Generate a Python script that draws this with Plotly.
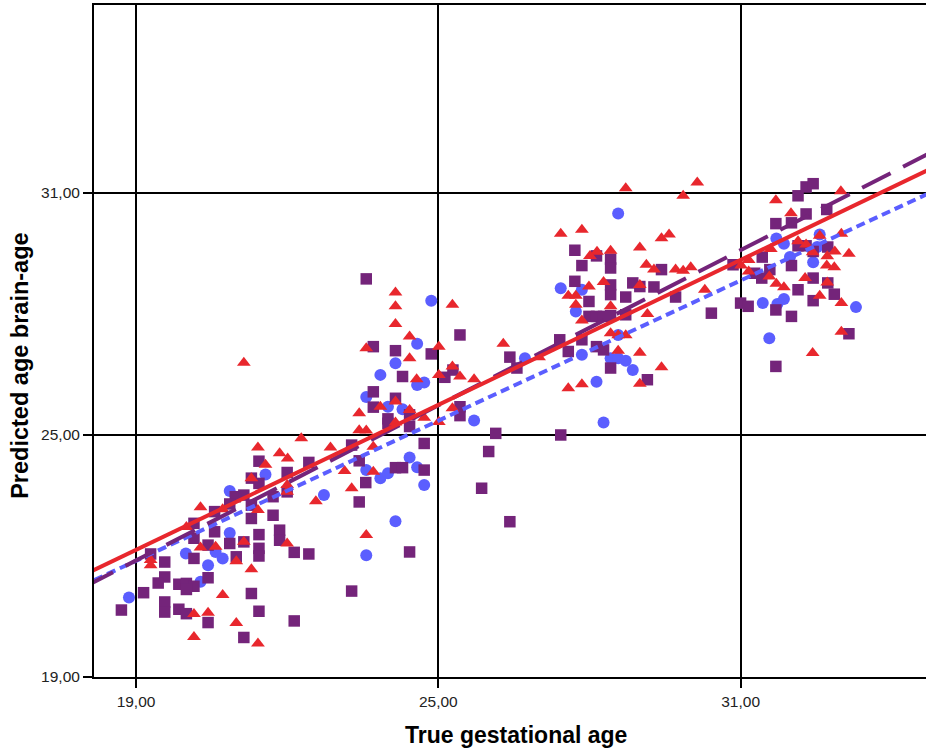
import plotly.graph_objects as go

# ---- data ----
red_x = [21.42, 22.28, 22.86, 21.85, 22.01, 21.57, 21.29, 22.00, 22.00, 22.57, 20.28, 21.42, 20.72, 20.00,
         22.00, 21.14, 20.28, 20.58, 20.99, 19.29, 19.29, 21.29, 20.72, 20.15, 20.43, 20.99, 20.15, 21.42,
         24.15, 24.15, 24.15, 24.43, 23.57, 24.43, 25.01, 25.28, 24.57, 25.01, 25.28, 25.43, 25.71, 26.29,
         27.00, 27.58, 27.58, 27.73, 27.73, 23.85, 24.15, 24.43, 23.43, 24.72, 25.28, 25.01, 23.43, 23.57,
         24.15, 23.71, 23.14, 23.71, 23.28, 23.57, 21.14,
         28.72, 30.14, 29.86, 27.43, 27.85, 29.43, 29.58, 29.00, 28.15, 28.01, 28.42, 29.13, 29.28, 29.71,
         29.86, 30.01, 28.28, 27.99, 29.00, 28.42, 30.29, 29.15, 27.85, 28.42, 28.57, 28.72, 28.57, 29.00,
         29.43, 27.85, 29.00, 31.70,
         32.99, 32.00, 32.14, 32.30, 32.57, 33.00, 31.60, 32.43, 32.72, 32.87, 33.15, 32.71, 32.86, 31.16,
         31.01, 31.16, 31.57, 31.71, 31.86, 32.28, 32.72, 32.57, 33.00, 33.00, 32.43]
red_y = [24.69, 24.92, 24.69, 24.55, 24.42, 24.26, 23.93, 23.76, 23.59, 23.36, 23.21, 23.14, 23.16, 22.72,
         22.31, 22.35, 22.21, 22.23, 21.87, 21.90, 21.77, 21.67, 21.03, 20.56, 20.59, 20.34, 19.99, 19.83,
         28.53, 28.19, 27.75, 27.44, 27.15, 26.90, 27.19, 28.23, 26.38, 26.49, 26.70, 26.45, 26.38, 27.26,
         26.93, 26.16, 28.45, 28.45, 28.23, 25.70, 25.83, 25.62, 25.54, 25.43, 25.66, 25.32, 25.12, 25.11,
         25.31, 24.71, 24.11, 24.09, 23.68, 22.52, 26.79,
         31.12, 31.26, 30.93, 29.99, 30.09, 29.88, 29.97, 29.65, 29.54, 29.44, 29.57, 29.22, 29.10, 29.10,
         29.07, 29.16, 28.79, 28.68, 28.72, 28.19, 28.60, 28.00, 27.84, 27.52, 27.47, 27.47, 27.09, 27.04,
         26.68, 26.26, 26.27, 30.82,
         31.04, 30.50, 29.80, 29.72, 29.94, 29.99, 29.61, 29.53, 29.43, 29.55, 29.49, 29.20, 29.16, 29.34,
         29.20, 29.05, 28.93, 28.75, 28.66, 28.89, 28.78, 28.45, 28.27, 27.56, 27.03]

blue_x = [21.57, 20.86, 22.73, 20.86, 19.99, 20.58, 20.72, 20.43, 20.28, 18.86,
          24.86, 24.58, 24.15, 23.85, 24.58, 24.72, 23.57, 24.00, 24.29, 25.71, 26.72, 27.43, 27.73,
          23.57, 23.85, 24.00, 24.43, 24.58, 24.72, 28.28, 24.15, 23.57,
          28.57, 27.85, 28.57, 27.85, 28.42, 28.57, 28.72, 28.86, 28.14, 31.44, 31.57,
          31.71, 31.86, 32.57, 31.98, 32.44, 32.52, 31.73, 31.86, 33.29]
blue_y = [24.02, 23.61, 23.51, 22.57, 22.06, 22.10, 21.94, 21.77, 21.36, 20.97,
          28.33, 27.26, 26.78, 26.49, 26.24, 26.30, 25.94, 25.70, 25.64, 25.36, 26.90, 28.64, 28.06,
          24.13, 23.93, 24.05, 24.44, 24.20, 23.76, 25.31, 22.86, 22.02,
          30.49, 28.60, 27.48, 26.99, 26.90, 26.90, 26.84, 26.61, 26.32, 28.27, 27.40,
          29.87, 29.74, 29.97, 29.41, 29.28, 29.66, 28.25, 28.37, 28.17]

purple_x = [21.44, 22.43, 21.29, 22.00, 21.44, 22.00, 20.97, 21.14, 21.72, 20.86, 21.29, 20.56, 21.72, 21.29,
            20.15, 20.56, 21.44, 21.85, 20.15, 20.86, 21.14, 21.85, 20.43, 21.44, 20.15, 20.99, 21.44, 22.14,
            22.43, 19.29, 19.57, 19.57, 19.44, 20.43, 19.85, 20.00, 20.15, 20.00, 19.15, 21.29, 19.57, 19.57,
            19.85, 20.00, 21.44, 20.43, 22.14, 21.14, 18.71,
            23.57, 23.71, 24.15, 24.86, 25.43, 24.29, 23.71, 23.71, 24.15, 24.00, 24.00, 24.43, 24.43, 25.13,
            25.29, 25.43, 25.43, 26.42, 26.56, 27.41, 27.58, 27.71, 24.72, 23.28, 23.43, 24.15, 24.29, 24.72,
            23.56, 23.43, 26.14, 27.43, 26.00, 25.86, 26.42, 24.43, 23.28,
            27.71, 27.85, 28.14, 28.42, 28.42, 27.99, 28.42, 28.42, 28.86, 29.00, 29.28, 29.43, 28.72, 29.71,
            27.99, 28.14, 28.28, 28.42, 28.72, 27.85, 28.14, 28.28, 28.42, 29.15, 30.42, 30.85, 31.00, 31.15,
            31.70, 31.70, 31.70, 31.43,
            32.14, 32.30, 32.44, 32.01, 32.30, 32.71, 31.28, 31.42, 31.58, 32.01, 32.14, 32.30, 32.44, 32.73,
            32.44, 32.14, 32.73, 32.86, 32.44, 32.01, 33.15]
purple_y = [24.35, 24.32, 23.93, 24.07, 23.80, 23.59, 23.47, 23.51, 23.47, 23.29, 23.26, 23.10, 23.01, 22.93,
            22.81, 22.60, 22.53, 22.64, 22.44, 22.31, 22.35, 22.39, 22.27, 22.19, 21.94, 21.98, 22.00, 22.09,
            22.05, 22.05, 21.85, 21.48, 21.33, 21.46, 21.30, 21.32, 21.25, 21.17, 21.09, 21.07, 20.86, 20.61,
            20.68, 20.57, 20.63, 20.35, 20.39, 19.98, 20.66,
            28.87, 27.19, 27.09, 27.01, 27.48, 26.45, 26.07, 25.69, 25.91, 25.40, 25.29, 25.50, 25.21, 26.43,
            26.61, 25.70, 25.48, 26.93, 26.66, 27.36, 27.07, 28.81, 24.79, 24.75, 24.36, 24.19, 24.19, 24.13,
            23.82, 23.34, 25.04, 25.00, 24.59, 23.68, 22.85, 22.10, 21.13,
            29.58, 29.20, 29.44, 29.36, 29.14, 28.31, 28.72, 28.48, 28.77, 28.68, 28.67, 29.10, 28.42, 28.42,
            27.94, 27.94, 27.94, 27.96, 27.98, 27.36, 27.19, 27.11, 26.66, 26.37, 28.02, 29.22, 28.27, 28.19,
            30.24, 28.10, 26.70, 29.41,
            30.93, 31.15, 31.23, 30.26, 30.48, 30.59, 29.01, 28.89, 29.10, 29.20, 29.69, 29.69, 29.55, 29.66,
            28.89, 28.60, 28.77, 28.49, 28.33, 27.94, 27.51]

# fit lines (slope, intercept)
red_fit = (0.599, 10.77)
purple_fit = (0.641, 9.71)
blue_fit = (0.579, 10.88)

x_range = [18.166, 34.68]
y_range = [19.0, 35.66]
tick_vals = [19, 25, 31]

RED = "#e8272d"
BLUE = "#5b5eff"
PURPLE = "#74247a"

fig = go.Figure()
fig.add_trace(go.Scatter(x=blue_x, y=blue_y, mode="markers",
                         marker=dict(symbol="circle", size=12, color=BLUE, line=dict(width=0))))
fig.add_trace(go.Scatter(x=purple_x, y=purple_y, mode="markers",
                         marker=dict(symbol="square", size=11.5, color=PURPLE, line=dict(width=0))))
fig.add_trace(go.Scatter(x=red_x, y=red_y, mode="markers",
                         marker=dict(symbol="triangle-up", size=12, color=RED, line=dict(width=0))))


def fit_line(fit):
    xs = [x_range[0] - 1, x_range[1] + 1]
    return xs, [fit[0] * v + fit[1] for v in xs]


bx, by = fit_line(blue_fit)
fig.add_trace(go.Scatter(x=bx, y=by, mode="lines", line=dict(color=BLUE, width=4, dash="9px,5px")))
px_, py_ = fit_line(purple_fit)
fig.add_trace(go.Scatter(x=px_, y=py_, mode="lines", line=dict(color=PURPLE, width=4, dash="32px,14px")))
rx, ry = fit_line(red_fit)
fig.add_trace(go.Scatter(x=rx, y=ry, mode="lines", line=dict(color=RED, width=4)))

fig.update_layout(
    width=926, height=751,
    margin=dict(l=94, r=0, t=5, b=74),
    paper_bgcolor="white", plot_bgcolor="white",
    showlegend=False,
    separators=",.",
    font=dict(family="Liberation Sans, Arial, sans-serif", color="#222222"),
    xaxis=dict(range=x_range, tickvals=tick_vals, tickformat=".2f",
               showgrid=True, gridcolor="black", gridwidth=1.5, zeroline=False,
               showline=True, linecolor="black", linewidth=2, mirror=True,
               ticks="outside", ticklen=9, tickwidth=2, tickcolor="black",
               tickfont=dict(size=15.5)),
    yaxis=dict(range=y_range, tickvals=tick_vals, tickformat=".2f",
               showgrid=True, gridcolor="black", gridwidth=1.5, zeroline=False,
               showline=True, linecolor="black", linewidth=2,
               ticks="outside", ticklen=9, tickwidth=2, tickcolor="black",
               tickfont=dict(size=15.5)),
    annotations=[
        dict(text="<b>True gestational age</b>", xref="paper", yref="paper",
             x=0.507, y=-0.087, xanchor="center", yanchor="middle", showarrow=False,
             font=dict(size=23, color="black")),
        dict(text="<b>Predicted age brain-age</b>", xref="paper", yref="paper",
             x=-0.089, y=0.463, xanchor="center", yanchor="middle", showarrow=False,
             textangle=-90, font=dict(size=23.5, color="black")),
    ],
)

fig.write_html(
    "out.html",
    config={"displayModeBar": False},
    post_script="document.body.style.margin='0';document.body.style.overflow='hidden';"
                "document.documentElement.style.overflow='hidden';",
)
